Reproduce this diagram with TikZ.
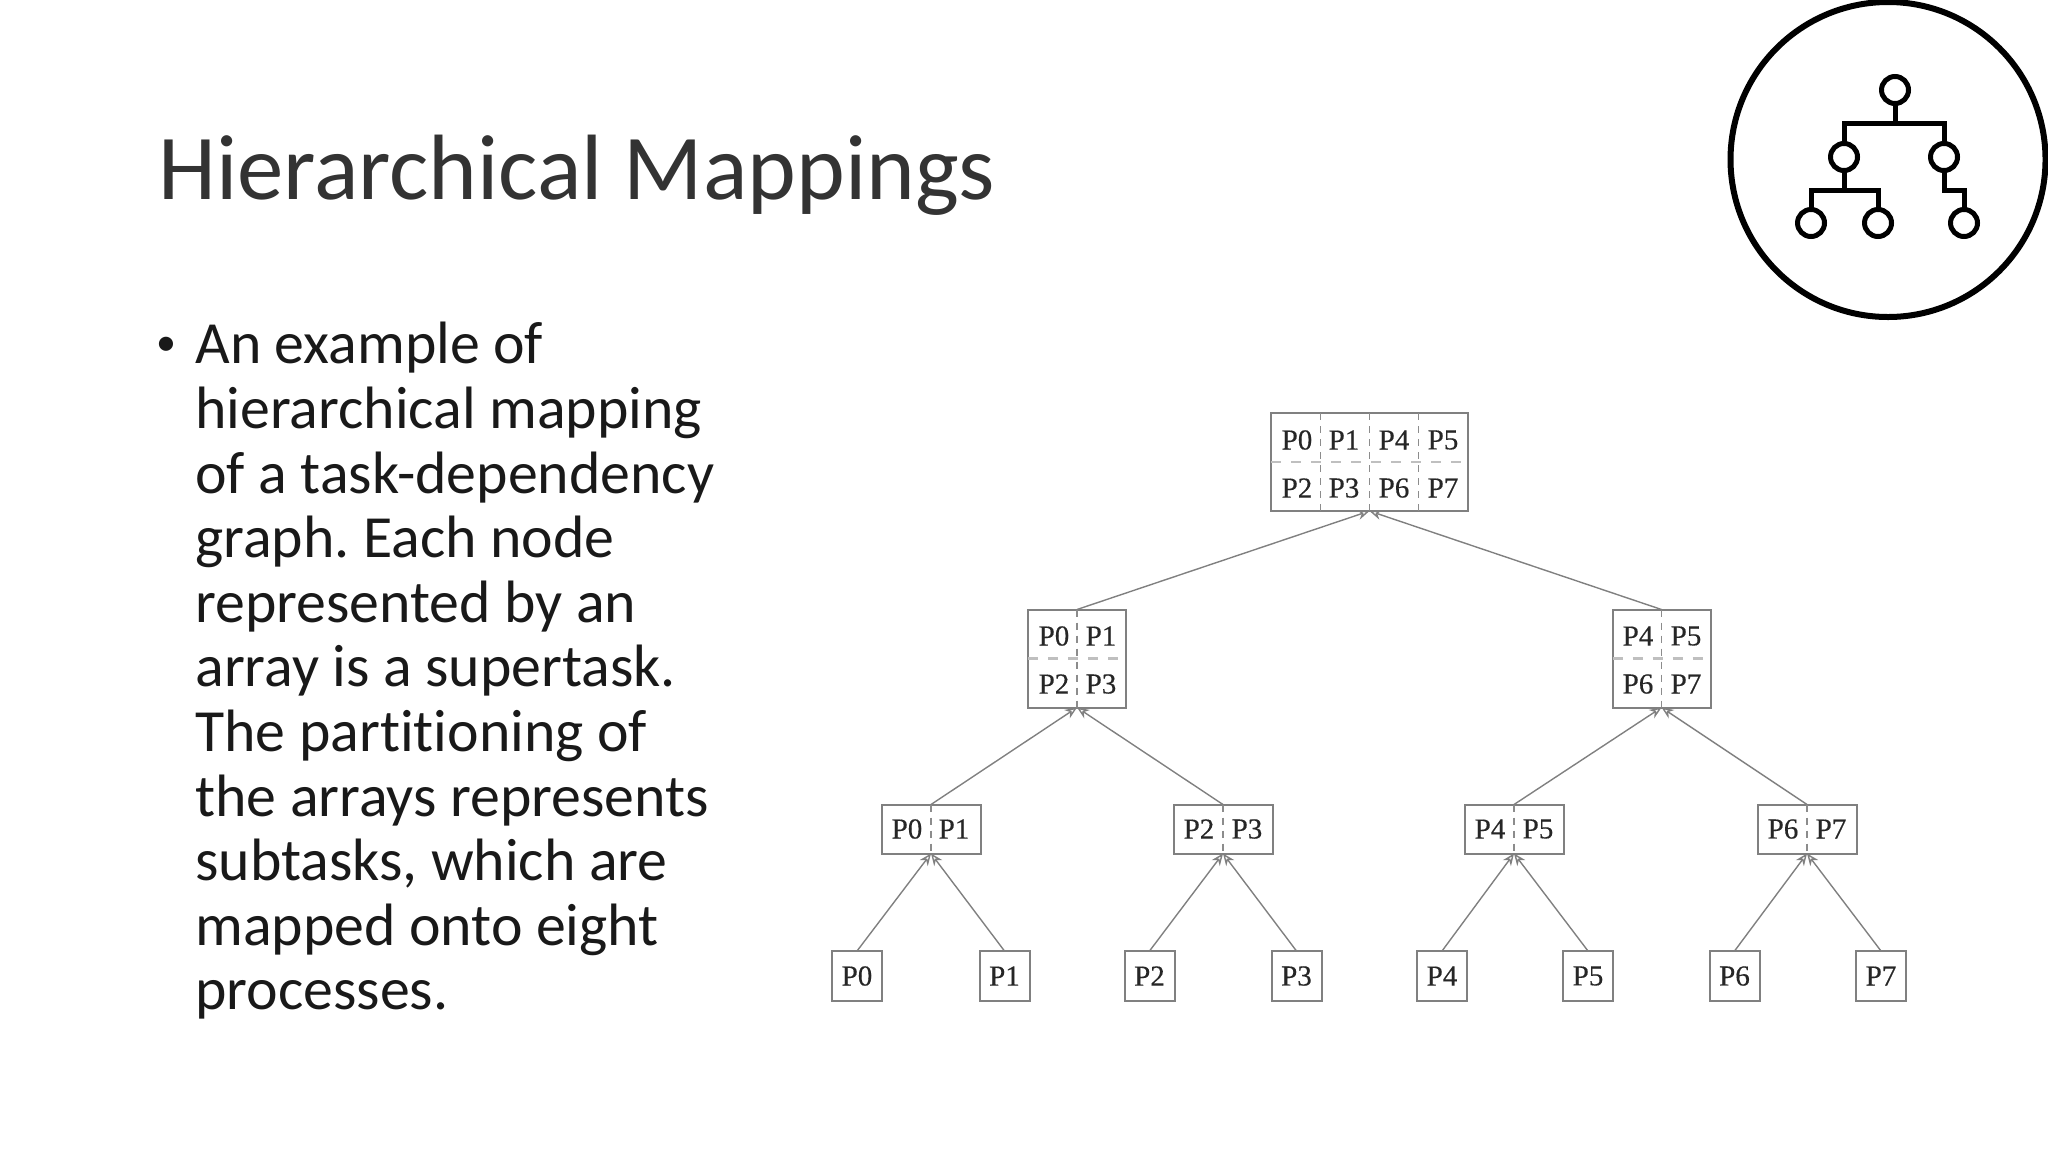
\documentclass[tikz,border=0pt]{standalone}
\usepackage{fontspec}
\setmainfont{Carlito}[Ligatures=NoCommon]
\newfontfamily\procfont[FakeBold=0.4]{Liberation Serif}
\usetikzlibrary{arrows.meta}
\definecolor{boxgray}{gray}{0.5}
\definecolor{dashgray}{gray}{0.55}
\definecolor{rowgray}{gray}{0.75}
\definecolor{proctext}{gray}{0.15}
\definecolor{bodytext}{gray}{0.1}
\tikzset{
  treebox/.style={draw=boxgray,line width=1pt,fill=white,inner sep=0pt,outer sep=0pt},
  leafbox/.style={treebox,minimum width=25pt,minimum height=25pt},
  pairbox/.style={treebox,minimum width=49.5pt,minimum height=24.5pt},
  quadbox/.style={treebox,minimum width=49pt,minimum height=49pt},
  rootbox/.style={treebox,minimum width=98.5pt,minimum height=49pt},
  proc/.style={inner sep=0pt,text=proctext,font=\procfont\fontsize{14.5}{16}\selectfont},
  cellrule/.style={draw=dashgray,line width=0.8pt,dash pattern=on 3.5pt off 3pt},
  rowrule/.style={draw=rowgray,line width=1.1pt,dash pattern=on 5pt off 5pt},
  dep/.style={draw=boxgray,line width=0.7pt,-{Stealth[open,length=6pt,width=5pt]}},
  icon/.style={draw=black,line width=2.5pt},
  iconnode/.style={circle,draw=black,line width=2.5pt,minimum size=13.5pt,inner sep=0pt,outer sep=0pt,fill=white},
}
\begin{document}
\frenchspacing
\begin{tikzpicture}[x=0.5pt,y=-0.5pt]
\useasboundingbox (0,0) rectangle (2048,1152);
% text
\node[anchor=base west,inner sep=0pt,text=black!80,font=\fontsize{46.4}{52}\selectfont] (title) at (158,199) {Hierarchical Mappings};
\node[anchor=north west,inner sep=0pt,text=bodytext,align=left,font=\fontsize{29.9}{32.3}\selectfont] (body) at (195,322) {An example of\\hierarchical mapping\\of a task-dependency\\graph. Each node\\represented by an\\array is a supertask.\\The partitioning of\\the arrays represents\\subtasks, which are\\mapped onto eight\\processes.};
\node[anchor=base,inner sep=0pt,text=bodytext,font=\fontsize{20}{24}\selectfont] (bullet) at (166,355) {•};
% array nodes
\node[rootbox] (root) at (1369.5,462) {};
\node[quadbox] (qa) at (1077,658.5) {};
\node[quadbox] (qb) at (1661.5,658.5) {};
\node[pairbox] (pa) at (931,829) {};
\node[pairbox] (pb) at (1223,829) {};
\node[pairbox] (pc) at (1514,829) {};
\node[pairbox] (pd) at (1807,829) {};
% partition rules
\draw[cellrule] (root.north) -- (root.south);
\draw[cellrule] ([xshift=-24.5pt]root.north) -- ([xshift=-24.5pt]root.south);
\draw[cellrule] ([xshift=24.5pt]root.north) -- ([xshift=24.5pt]root.south);
\draw[rowrule] (root.west) -- (root.east);
\foreach \q in {qa,qb}{
  \draw[cellrule] (\q.north) -- (\q.south);
  \draw[rowrule] (\q.west) -- (\q.east);
}
\foreach \q in {pa,pb,pc,pd}{
  \draw[cellrule] (\q.north) -- (\q.south);
}
% array labels
\foreach \t/\x/\y/\n in {P0/1297/440/ra,P1/1344/440/rb,P4/1394/440/rc,P5/1443/440/rd,
  P2/1297/488/re,P3/1344/488/rf,P6/1394/488/rg,P7/1443/488/rh,
  P0/1054/636/qaa,P1/1101/636/qab,P2/1054/684/qac,P3/1101/684/qad,
  P4/1638/636/qba,P5/1686/636/qbb,P6/1638/684/qbc,P7/1686/684/qbd,
  P0/907/829/paa,P1/954/829/pab,P2/1199/829/pba,P3/1247/829/pbb,
  P4/1490/829/pca,P5/1538/829/pcb,P6/1783/829/pda,P7/1831/829/pdb}{
  \node[proc] (\n) at (\x,\y) {\t};
}
% leaves
\foreach \n/\x in {0/857,1/1004.5,2/1149.5,3/1296.5,4/1442,5/1588,6/1734.5,7/1881}{
  \node[leafbox] (leaf\n) at (\x,976) {};
  \node[proc] (leaftext\n) at (leaf\n) {P\n};
}
% connectors
\draw[dep] (qa.north) -- (root.south);
\draw[dep] (qb.north) -- (root.south);
\draw[dep] (pa.north) -- (qa.south);
\draw[dep] (pb.north) -- (qa.south);
\draw[dep] (pc.north) -- (qb.south);
\draw[dep] (pd.north) -- (qb.south);
\draw[dep] (leaf0.north) -- (pa.south);
\draw[dep] (leaf1.north) -- (pa.south);
\draw[dep] (leaf2.north) -- (pb.south);
\draw[dep] (leaf3.north) -- (pb.south);
\draw[dep] (leaf4.north) -- (pc.south);
\draw[dep] (leaf5.north) -- (pc.south);
\draw[dep] (leaf6.north) -- (pd.south);
\draw[dep] (leaf7.north) -- (pd.south);
% icon
\node[circle,draw=black,line width=3pt,minimum size=157.5pt,inner sep=0pt] (ring) at (1888,159.5) {};
\node[iconnode] (ia) at (1895,90) {};
\node[iconnode] (ib) at (1844,157) {};
\node[iconnode] (ic) at (1944,157) {};
\node[iconnode] (id) at (1811,223) {};
\node[iconnode] (ie) at (1878,223) {};
\node[iconnode] (if) at (1964,223) {};
\coordinate (busa) at (1895,123);
\coordinate (busb) at (1844,190);
\coordinate (busc) at (1944,190);
\draw[icon] (ia.south) -- (busa);
\draw[icon,line join=miter] (ib.north) |- (busa) -| (ic.north);
\draw[icon] (ib.south) -- (busb);
\draw[icon,line join=miter] (id.north) |- (busb) -| (ie.north);
\draw[icon,line join=miter] (ic.south) -- (busc) -| (if.north);
\end{tikzpicture}
\end{document}
